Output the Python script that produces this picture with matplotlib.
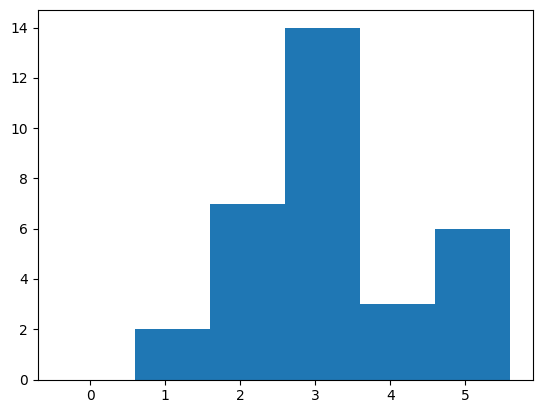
import matplotlib
matplotlib.use("Agg")
import matplotlib.pyplot as plt
import numpy as np

bin_edges = [-0.4, 0.6, 1.6, 2.6, 3.6, 4.6, 5.6]
counts = [0, 2, 7, 14, 3, 6]

fig = plt.figure(figsize=(5.43, 4.13), dpi=100)
ax = fig.add_axes([37.5/543, 1-379.5/413, (533-37.5)/543, (379.5-10)/413])
edges = np.array(bin_edges)
ax.bar(edges[:-1], counts, width=np.diff(edges), align='edge', color='#1f77b4')
fig.savefig("out.png", dpi=100)
